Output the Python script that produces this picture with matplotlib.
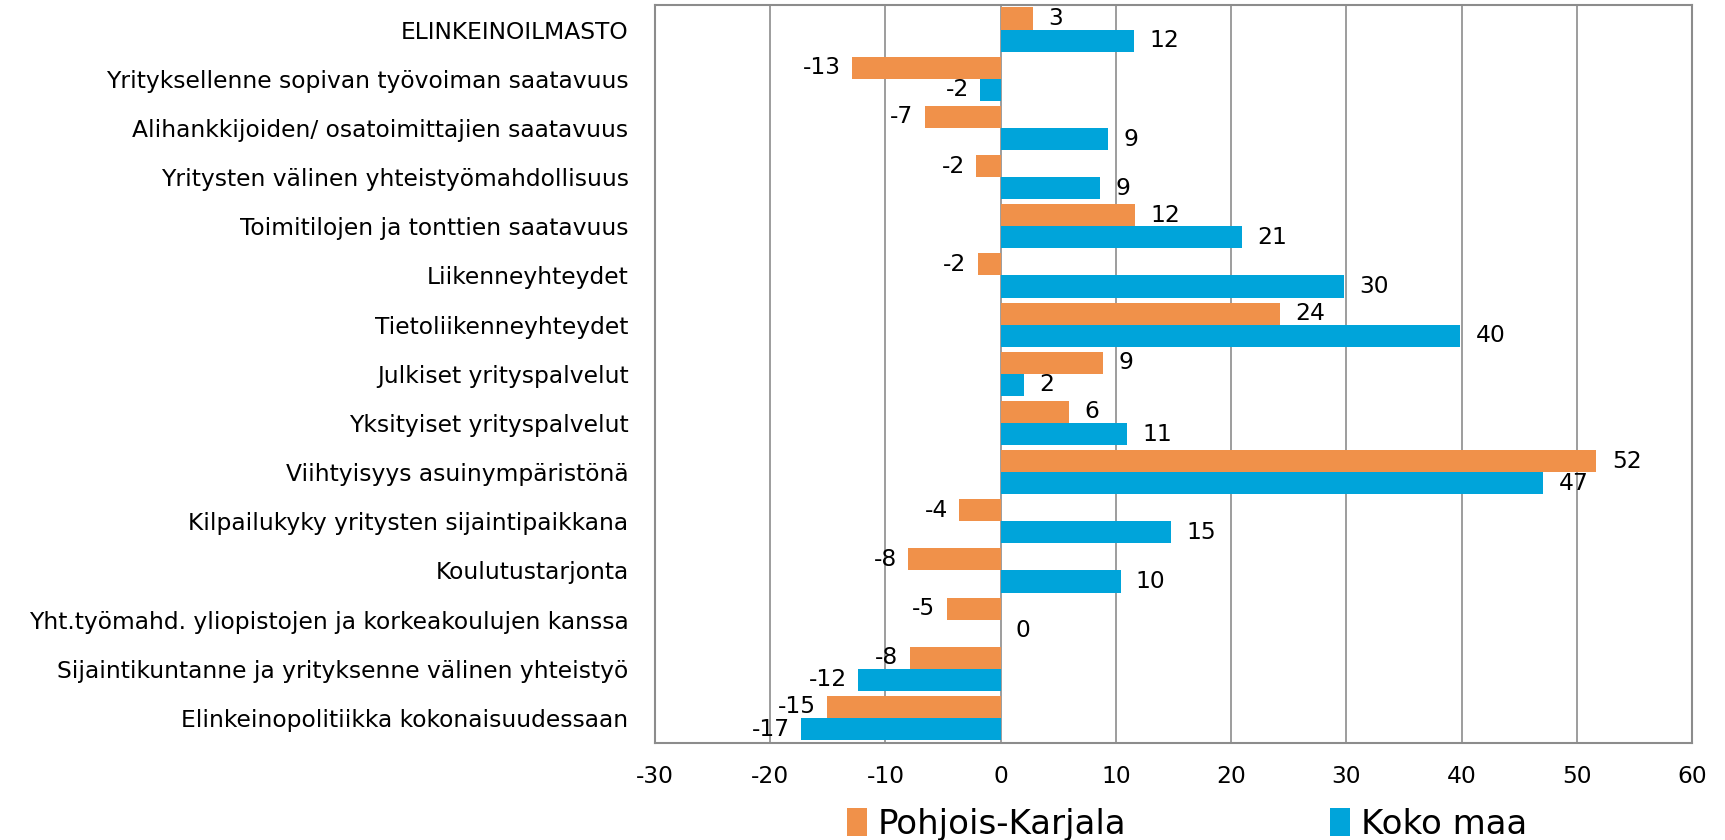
import numpy as np
import matplotlib
matplotlib.use("Agg")
import matplotlib.pyplot as plt

categories = [
    "ELINKEINOILMASTO",
    "Yrityksellenne sopivan työvoiman saatavuus",
    "Alihankkijoiden/ osatoimittajien saatavuus",
    "Yritysten välinen yhteistyömahdollisuus",
    "Toimitilojen ja tonttien saatavuus",
    "Liikenneyhteydet",
    "Tietoliikenneyhteydet",
    "Julkiset yrityspalvelut",
    "Yksityiset yrityspalvelut",
    "Viihtyisyys asuinympäristönä",
    "Kilpailukyky yritysten sijaintipaikkana",
    "Koulutustarjonta",
    "Yht.työmahd. yliopistojen ja korkeakoulujen kanssa",
    "Sijaintikuntanne ja yrityksenne välinen yhteistyö",
    "Elinkeinopolitiikka kokonaisuudessaan",
]
pohjois_karjala = [2.8, -12.9, -6.6, -2.1, 11.7, -2.0, 24.2, 8.9, 5.9, 51.7, -3.6, -8.0, -4.7, -7.9, -15.1]
koko_maa = [11.6, -1.8, 9.3, 8.6, 20.9, 29.8, 39.9, 2.0, 11.0, 47.1, 14.8, 10.4, 0.0, -12.4, -17.3]
series_names = ["Pohjois-Karjala", "Koko maa"]
xticks = [-30, -20, -10, 0, 10, 20, 30, 40, 50, 60]

plt.rcParams['font.family'] = ['DejaVu Sans']
ORANGE = "#F0914A"
BLUE = "#00A4DA"
GRID = "#8C8C8C"
FS = 16.8

fig = plt.figure(figsize=(17.25, 8.4), dpi=100)
ax = fig.add_axes([0.3797, 0.116, 0.6012, 0.878])

y = np.arange(len(categories))
h = 0.45
b1 = ax.barh(y - h / 2, pohjois_karjala, height=h, color=ORANGE, label=series_names[0], zorder=3)
b2 = ax.barh(y + h / 2, koko_maa, height=h, color=BLUE, label=series_names[1], zorder=3)

for bars, vals in ((b1, pohjois_karjala), (b2, koko_maa)):
    for rect, v in zip(bars, vals):
        yc = rect.get_y() + rect.get_height() / 2
        if v >= 0:
            ax.annotate(f"{v:.0f}", (v, yc), xytext=(11, 0), textcoords="offset points",
                        ha="left", va="center", fontsize=FS, color="black", zorder=4)
        else:
            ax.annotate(f"{v:.0f}", (v, yc), xytext=(-8, 0), textcoords="offset points",
                        ha="right", va="center", fontsize=FS, color="black", zorder=4)

ax.set_xlim(-30, 60)
ax.set_ylim(len(categories) - 0.5, -0.5)
ax.set_xticks(xticks)
ax.set_xticklabels([str(t) for t in xticks])
ax.set_yticks(y)
ax.set_yticklabels(categories)
ax.tick_params(axis="y", length=0, pad=19, labelsize=FS)
ax.tick_params(axis="x", length=0, pad=16, labelsize=FS)
ax.xaxis.grid(True, color=GRID, linewidth=1.2, zorder=0)
ax.set_axisbelow(True)
for s in ax.spines.values():
    s.set_color(GRID)
    s.set_linewidth(1.5)

fig.legend(handles=[b1, b2], labels=series_names, loc="center", bbox_to_anchor=(0.688, 0.019),
           ncol=2, frameon=False, fontsize=24.5, handlelength=0.6, handleheight=0.9,
           handletextpad=0.3, columnspacing=6.0, borderaxespad=0, borderpad=0)

fig.savefig("out.png", dpi=100)
